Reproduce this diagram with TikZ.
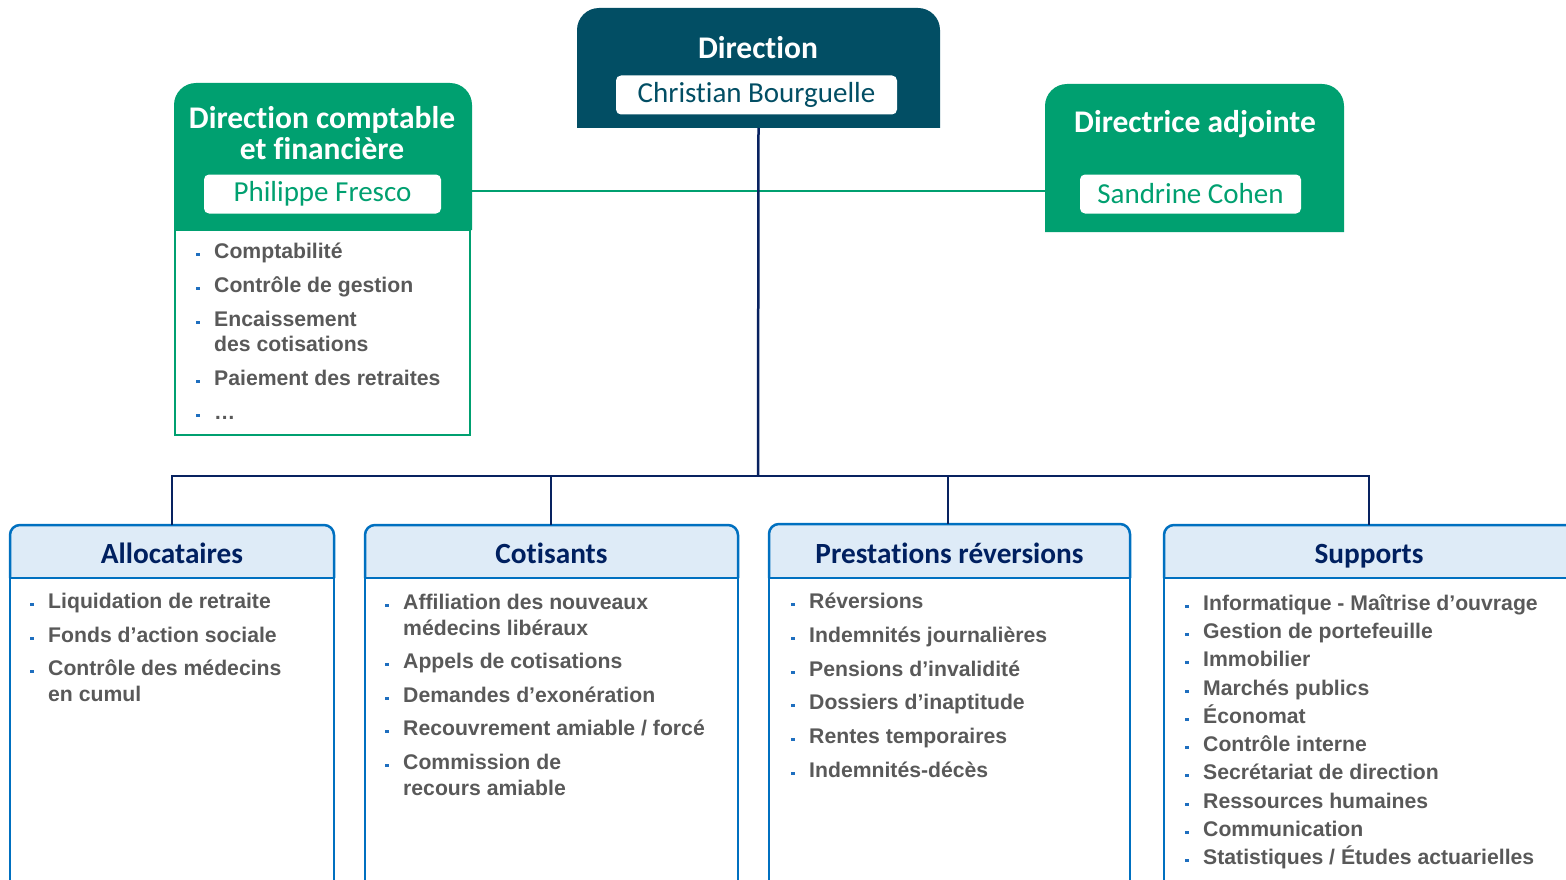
\documentclass[tikz,border=0pt]{standalone}
\usepackage{fontspec}
\setmainfont{Liberation Sans}
\newfontfamily\calfont{Carlito}[Ligatures={NoCommon,NoRequired,NoContextual}]
\definecolor{dirteal}{RGB}{2,78,100}
\definecolor{mygreen}{RGB}{0,160,112}
\definecolor{navyline}{RGB}{8,34,96}
\definecolor{hdrtext}{RGB}{0,32,96}
\definecolor{bordblue}{RGB}{0,112,192}
\definecolor{hdrfill}{RGB}{222,235,247}
\definecolor{itemgray}{RGB}{89,89,89}
\definecolor{bulblue}{RGB}{31,111,191}
\newcommand\bitem[4]{%
  \fill[bulblue] (#2-18,#3-5.2) rectangle ++(3.6,3.6);
  \node[item] (#1) at (#2,#3) {#4};}
\begin{document}
\begin{tikzpicture}[x=1pt,y=-1pt,
  box/.style={draw=none,inner sep=0,outer sep=0,rectangle},
  toptitle/.style={font=\calfont\bfseries\fontsize{31.5}{32}\selectfont,text=white,inner sep=0,align=center},
  nametag/.style={fill=white,rounded corners=5,inner sep=0,minimum height=39,font=\calfont\fontsize{29}{30}\selectfont},
  hdrtitle/.style={font=\calfont\bfseries\fontsize{29.3}{30}\selectfont,text=hdrtext,inner sep=0},
  item/.style={anchor=base west,inner sep=0,font=\bfseries\fontsize{21.2}{25}\selectfont,text=itemgray},
  navy/.style={draw=navyline,line width=2.5},
  bord/.style={draw=bordblue,line width=2.5}]
\useasboundingbox (0,0) rectangle (1566,880);

% ---------- Direction ----------
\node[box,minimum width=363,minimum height=120] (dir) at (758.5,68) {};
\fill[dirteal,rounded corners=22] (dir.south west) -- (dir.north west) -- (dir.north east) -- (dir.south east);
\node[toptitle] (dirtitle) at (758,48) {Direction};
\node[nametag,minimum width=281,text=dirteal] (dirname) at (756.5,95) {Christian Bourguelle};

% ---------- Direction comptable ----------
\node[box,minimum width=298,minimum height=147] (dcf) at (323,156.5) {};
\fill[mygreen,rounded corners=22] (dcf.south west) -- (dcf.north west) -- (dcf.north east) -- (dcf.south east);
\node[toptitle] (dcftitle) at (322,133) {Direction comptable\\[-1pt]et financière};
\node[nametag,minimum width=237,text=mygreen] (pfname) at (322.5,194) {Philippe Fresco};
\node[box,draw=mygreen,line width=2,minimum width=295,minimum height=205] (dcflist) at (322.5,332.5) {};
\bitem{c1}{214}{258}{Comptabilité}
\bitem{c2}{214}{292}{Contrôle de gestion}
\bitem{c3}{214}{326}{Encaissement}
\node[item] (c3b) at (214,351) {des cotisations};
\bitem{c4}{214}{385}{Paiement des retraites}
\bitem{c5}{214}{419}{…}

% ---------- Directrice adjointe ----------
\node[box,minimum width=299,minimum height=148] (adj) at (1194.5,158) {};
\fill[mygreen,rounded corners=22] (adj.south west) -- (adj.north west) -- (adj.north east) -- (adj.south east);
\node[toptitle] (adjtitle) at (1195,124.5) {Directrice adjointe};
\node[nametag,minimum width=221,text=mygreen] (scname) at (1190.5,194) {Sandrine Cohen};

% green connector
\draw[mygreen,line width=2] (dcf.east |- 0,191) -- (adj.west |- 0,191);

% ---------- bottom boxes ----------
\foreach \nm/\xa/\xb/\yt in {allo/10/334/525, coti/365/738/525, prest/769/1130/524, supp/1164/1580/525}{
  \node[box,minimum width=\xb-\xa,minimum height=578-\yt] (\nm) at ({(\xa+\xb)/2},{(\yt+578)/2}) {};
  \fill[hdrfill,rounded corners=10] (\nm.south west) -- (\nm.north west) -- (\nm.north east) -- (\nm.south east);
  \draw[bord,rounded corners=10] (\nm.south west) -- (\nm.north west) -- (\nm.north east) -- (\nm.south east);
  \draw[bord] (\nm.south west) -- (\nm.south east);
  \draw[bord] (\nm.south west) -- ++(0,330);
  \draw[bord] (\nm.south east) -- ++(0,330);
}
\node[hdrtitle] (allot) at (172,553.5) {Allocataires};
\node[hdrtitle] (cotit) at (551.5,553.5) {Cotisants};
\node[hdrtitle] (prestt) at (949.5,553.5) {Prestations réversions};
\node[hdrtitle] (suppt) at (1369,556.5) {Supports};

% ---------- connectors ----------
\coordinate (bus) at (758,476);
\draw[navy] (dir.south) -- (bus);
\draw[navy] (allo.north -| 172,0) |- (bus) -| (supp.north -| 1369,0);
\draw[navy] (coti.north -| 551,0) -- (551,476);
\draw[navy] (prest.north -| 948,0) -- (948,476);

% ---------- items ----------
\bitem{a1}{48}{608}{Liquidation de retraite}
\bitem{a2}{48}{642}{Fonds d’action sociale}
\bitem{a3}{48}{675}{Contrôle des médecins}
\node[item] (a3b) at (48,701) {en cumul};

\bitem{b1}{403}{609}{Affiliation des nouveaux}
\node[item] (b1b) at (403,635) {médecins libéraux};
\bitem{b2}{403}{668}{Appels de cotisations}
\bitem{b3}{403}{702}{Demandes d’exonération}
\bitem{b4}{403}{735}{Recouvrement amiable / forcé}
\bitem{b5}{403}{769}{Commission de}
\node[item] (b5b) at (403,795) {recours amiable};

\bitem{p1}{809}{608}{Réversions}
\bitem{p2}{809}{642}{Indemnités journalières}
\bitem{p3}{809}{676}{Pensions d’invalidité}
\bitem{p4}{809}{709}{Dossiers d’inaptitude}
\bitem{p5}{809}{743}{Rentes temporaires}
\bitem{p6}{809}{777}{Indemnités-décès}

\bitem{s1}{1203}{610}{Informatique - Maîtrise d’ouvrage}
\bitem{s2}{1203}{638}{Gestion de portefeuille}
\bitem{s3}{1203}{666}{Immobilier}
\bitem{s4}{1203}{695}{Marchés publics}
\bitem{s5}{1203}{723}{Économat}
\bitem{s6}{1203}{751}{Contrôle interne}
\bitem{s7}{1203}{779}{Secrétariat de direction}
\bitem{s8}{1203}{808}{Ressources humaines}
\bitem{s9}{1203}{836}{Communication}
\bitem{s10}{1203}{864}{Statistiques / Études actuarielles}
\end{tikzpicture}
\end{document}
